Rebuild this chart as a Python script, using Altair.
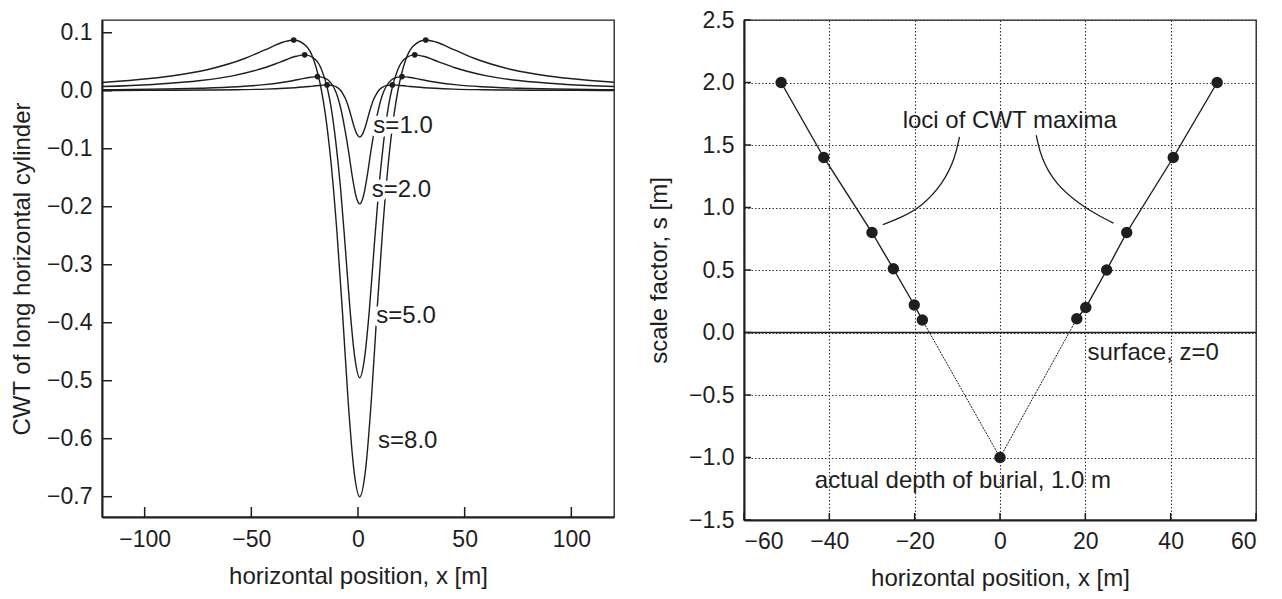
import altair as alt
import pandas as pd

FONT = "Liberation Sans"
INK = "#1e1e1e"
FS = 23     # tick labels
FT = 24     # titles and annotations

# ---------------- left panel: CWT curves ----------------
s8_x = [-124.3, -115.4, -88.6, -70.7, -52.8, -43.9, -34.9, -30.15, -24.2, -20.6, -17.1, -15.3,
        -12.6, -9.9, -7.2, -4.6, -1.9, 0.8, 3.5, 6.2, 8.8, 11.5, 14.2, 16.9, 18.7, 22.2, 25.8,
        31.75, 36.5, 45.5, 54.4, 72.3, 90.2, 117.0, 125.9]
s8_v = [0.0134, 0.0154, 0.0249, 0.0363, 0.056, 0.0699, 0.084, 0.0875, 0.0767, 0.0517, 0.0, -0.0406,
        -0.1254, -0.2422, -0.3861, -0.5362, -0.6545, -0.700, -0.6545, -0.5362, -0.3861, -0.2422,
        -0.1254, -0.0406, 0.0, 0.0517, 0.0767, 0.0875, 0.084, 0.0699, 0.056, 0.0363, 0.0249,
        0.0154, 0.0134]

s5_x = [-125.9, -96.1, -73.7, -58.8, -43.9, -36.5, -29.0, -25.0, -20.1, -17.1, -14.1, -12.6,
        -10.4, -8.1, -5.9, -3.7, -1.4, 0.8, 3.0, 5.3, 7.5, 9.7, 12.0, 14.2, 15.7, 18.7, 21.7,
        26.6, 30.6, 38.1, 45.5, 60.4, 75.3, 97.7, 127.5]
s5_v = [0.0066, 0.0109, 0.0176, 0.0257, 0.0396, 0.0494, 0.0594, 0.0619, 0.0542, 0.0366, 0.0,
        -0.0287, -0.0887, -0.1713, -0.2730, -0.3791, -0.4628, -0.495, -0.4628, -0.3791, -0.2730,
        -0.1713, -0.0887, -0.0287, 0.0, 0.0366, 0.0542, 0.0619, 0.0594, 0.0494, 0.0396, 0.0257,
        0.0176, 0.0109, 0.0066]

s2_x = [-124.9, -113.5, -90.6, -73.5, -56.4, -44.9, -33.5, -27.8, -22.1, -19.0, -15.2, -12.9,
        -10.6, -9.5, -7.8, -6.1, -4.3, -2.6, -0.9, 0.8, 2.5, 4.2, 5.9, 7.7, 9.4, 11.1, 12.2, 14.5,
        16.8, 20.6, 23.7, 29.4, 35.1, 46.5, 58.0, 75.1, 92.2, 115.1, 126.5]
s2_v = [0.0016, 0.0019, 0.0029, 0.0043, 0.0069, 0.0101, 0.0156, 0.0195, 0.0234, 0.0244, 0.0214,
        0.0144, 0.0, -0.0113, -0.0349, -0.0675, -0.1075, -0.1494, -0.1823, -0.195, -0.1823,
        -0.1494, -0.1075, -0.0675, -0.0349, -0.0113, 0.0, 0.0144, 0.0214, 0.0244, 0.0234, 0.0195,
        0.0156, 0.0101, 0.0069, 0.0043, 0.0029, 0.0019, 0.0016]

s1_x = [-127.2, -114.0, -87.5, -69.8, -56.6, -43.4, -34.5, -25.7, -21.3, -16.9, -14.5, -11.6,
        -9.8, -8.0, -7.2, -5.8, -4.5, -3.2, -1.9, -0.5, 0.8, 2.1, 3.5, 4.8, 6.1, 7.4, 8.8, 9.6,
        11.4, 13.2, 16.1, 18.5, 22.9, 27.3, 36.1, 45.0, 58.2, 71.4, 89.1, 115.6, 128.8]
s1_v = [0.0004, 0.0005, 0.0008, 0.0012, 0.0018, 0.0028, 0.0042, 0.0064, 0.0080, 0.0096, 0.0100,
        0.0088, 0.0059, 0.0, -0.0046, -0.0143, -0.0277, -0.0441, -0.0613, -0.0748, -0.080,
        -0.0748, -0.0613, -0.0441, -0.0277, -0.0143, -0.0046, 0.0, 0.0059, 0.0088, 0.0100,
        0.0096, 0.0080, 0.0064, 0.0042, 0.0028, 0.0018, 0.0012, 0.0008, 0.0005, 0.0004]

max_x = [-30.15, 31.75, -25.0, 26.6, -19.0, 20.6, -14.5, 16.1]
max_v = [0.0875, 0.0875, 0.0619, 0.0619, 0.0244, 0.0244, 0.0100, 0.0100]

curve_labels = ["s=1.0", "s=2.0", "s=5.0", "s=8.0"]
curve_label_x = [7.2, 6.4, 8.6, 9.4]
curve_label_v = [-0.060, -0.171, -0.389, -0.604]

left_x_ticks = [-100, -50, 0, 50, 100]
left_y_ticks = [0.1, 0.0, -0.1, -0.2, -0.3, -0.4, -0.5, -0.6, -0.7]

# ---------------- right panel: loci of maxima ----------------
left_branch_x = [-51.3, -41.3, -30.0, -25.0, -20.1, -18.2]
left_branch_s = [2.0, 1.4, 0.8, 0.51, 0.22, 0.1]
right_branch_x = [18.0, 20.1, 25.0, 29.7, 40.6, 50.9]
right_branch_s = [0.11, 0.2, 0.5, 0.8, 1.4, 2.0]
apex_x = [-18.2, 0.0, 18.0]
apex_s = [0.1, -1.0, 0.11]

arc_left_x = [-9.5, -10.5, -13.4, -18.4, -23.5, -27.5]
arc_left_s = [1.565, 1.396, 1.188, 1.005, 0.914, 0.862]
arc_right_x = [8.5, 9.6, 13.0, 18.4, 23.5, 26.6]
arc_right_s = [1.578, 1.396, 1.188, 1.031, 0.927, 0.875]

right_x_ticks = [-60, -40, -20, 0, 20, 40, 60]
right_y_ticks = [2.5, 2.0, 1.5, 1.0, 0.5, 0.0, -0.5, -1.0, -1.5]

HL, HR = 497, 500
W = 512

# ---------------- tables ----------------
rows = []
for name, xs, vs in [("s8", s8_x, s8_v), ("s5", s5_x, s5_v), ("s2", s2_x, s2_v), ("s1", s1_x, s1_v)]:
    for i, (a, b) in enumerate(zip(xs, vs)):
        rows.append({"x": a, "v": b, "curve": name, "order": i})
curves = pd.DataFrame(rows)
maxima = pd.DataFrame({"x": max_x, "v": max_v})
labels = pd.DataFrame({"x": curve_label_x, "v": curve_label_v, "t": curve_labels})
lxt = pd.DataFrame({"x": left_x_ticks})
lyt = pd.DataFrame({"v": left_y_ticks})

lx = alt.X("x:Q", scale=alt.Scale(domain=[-120, 120], nice=False, zero=False),
           axis=alt.Axis(values=left_x_ticks, format="d", title="horizontal position, x [m]",
                         grid=False, ticks=False, labelPadding=11, titlePadding=13))
ly = alt.Y("v:Q", scale=alt.Scale(domain=[-0.735, 0.122], nice=False, zero=False),
           axis=alt.Axis(values=left_y_ticks, format=".1f", title="CWT of long horizontal cylinder",
                         grid=False, ticks=False, labelPadding=10, titlePadding=12))

c_lines = alt.Chart(curves).mark_line(color=INK, strokeWidth=1.4, interpolate="monotone", clip=True).encode(
    x=lx, y=ly, detail="curve:N", order="order:Q")
c_dots = alt.Chart(maxima).mark_circle(size=32, color=INK, opacity=1).encode(x=lx, y=ly)
c_halo = alt.Chart(labels).mark_text(align="left", baseline="middle", font=FONT, fontSize=FT,
                                     color="white", stroke="white", strokeWidth=9).encode(x=lx, y=ly, text="t:N")
c_text = alt.Chart(labels).mark_text(align="left", baseline="middle", font=FONT, fontSize=FT,
                                     color=INK).encode(x=lx, y=ly, text="t:N")
c_ytick = alt.Chart(lyt).mark_rule(color=INK, strokeWidth=1.5).encode(
    y=ly, x=alt.value(0), x2=alt.value(10))
c_xtick = alt.Chart(lxt).mark_rule(color=INK, strokeWidth=1.5).encode(
    x=lx, y=alt.value(HL), y2=alt.value(HL - 10))

left = alt.layer(c_lines, c_halo, c_text, c_dots, c_ytick, c_xtick).properties(width=W, height=HL)

# right panel
pts = pd.DataFrame({"x": left_branch_x + right_branch_x + [0.0],
                    "v": left_branch_s + right_branch_s + [-1.0]})
branches = pd.DataFrame(
    [{"x": a, "v": b, "g": "L", "o": i} for i, (a, b) in enumerate(zip(left_branch_x, left_branch_s))] +
    [{"x": a, "v": b, "g": "R", "o": i} for i, (a, b) in enumerate(zip(right_branch_x, right_branch_s))])
apex = pd.DataFrame({"x": apex_x, "v": apex_s, "o": list(range(len(apex_x)))})
arcs = pd.DataFrame(
    [{"x": a, "v": b, "g": "L", "o": i} for i, (a, b) in enumerate(zip(arc_left_x, arc_left_s))] +
    [{"x": a, "v": b, "g": "R", "o": i} for i, (a, b) in enumerate(zip(arc_right_x, arc_right_s))])
notes = pd.DataFrame({"x": [2.3, 20.5, -43.4], "v": [1.69, -0.165, -1.19],
                      "t": ["loci of CWT maxima", "surface, z=0", "actual depth of burial, 1.0 m"],
                      "a": ["center", "left", "left"]})
rxt = pd.DataFrame({"x": right_x_ticks})
ryt = pd.DataFrame({"v": right_y_ticks})

rx = alt.X("x:Q", scale=alt.Scale(domain=[-60, 60], nice=False, zero=False),
           axis=alt.Axis(values=right_x_ticks, format="d", title="horizontal position, x [m]",
                         grid=True, gridDash=[1.5, 2], gridColor="#333333", gridWidth=1.1,
                         ticks=False, labelPadding=10, titlePadding=13))
ry = alt.Y("v:Q", scale=alt.Scale(domain=[-1.5, 2.5], nice=False, zero=False),
           axis=alt.Axis(values=right_y_ticks, format=".1f", title="scale factor, s [m]",
                         grid=True, gridDash=[1.5, 2], gridColor="#333333", gridWidth=1.1,
                         ticks=False, labelPadding=10, titlePadding=17))

r_surface = alt.Chart(pd.DataFrame({"v": [0.0]})).mark_rule(color=INK, strokeWidth=1.4).encode(y=ry)
r_apex = alt.Chart(apex).mark_line(color=INK, strokeWidth=1.0, strokeDash=[2, 1]).encode(
    x=rx, y=ry, order="o:Q")
r_branch = alt.Chart(branches).mark_line(color=INK, strokeWidth=1.4).encode(
    x=rx, y=ry, detail="g:N", order="o:Q")
r_arcs = alt.Chart(arcs).mark_line(color=INK, strokeWidth=1.3, interpolate="basis").encode(
    x=rx, y=ry, detail="g:N", order="o:Q")
r_pts = alt.Chart(pts).mark_circle(size=130, color=INK, opacity=1).encode(x=rx, y=ry)
r_text_c = alt.Chart(notes[notes.a == "center"]).mark_text(
    align="center", baseline="middle", font=FONT, fontSize=FT, color=INK).encode(x=rx, y=ry, text="t:N")
r_text_l = alt.Chart(notes[notes.a == "left"]).mark_text(
    align="left", baseline="middle", font=FONT, fontSize=FT, color=INK).encode(x=rx, y=ry, text="t:N")
r_ytick = alt.Chart(ryt).mark_rule(color=INK, strokeWidth=1.5).encode(
    y=ry, x=alt.value(0), x2=alt.value(7))
r_xtick = alt.Chart(rxt).mark_rule(color=INK, strokeWidth=1.5).encode(
    x=rx, y=alt.value(HR), y2=alt.value(HR - 7))

right = alt.layer(r_surface, r_apex, r_branch, r_arcs, r_pts, r_text_c, r_text_l, r_ytick, r_xtick).properties(
    width=W, height=HR)

chart = alt.hconcat(left, right, spacing=130, bounds="flush").properties(
    padding={"left": 1, "top": 0, "right": 2, "bottom": 0}, background="white"
).configure_view(stroke=INK, strokeWidth=1.3).configure_axis(
    labelFont=FONT, labelFontSize=FS, labelColor=INK,
    titleFont=FONT, titleFontSize=FT, titleFontWeight="normal", titleColor=INK,
    domainColor=INK, domainWidth=2
)

chart.save("out.html", embed_options={"renderer": "svg", "actions": False})
